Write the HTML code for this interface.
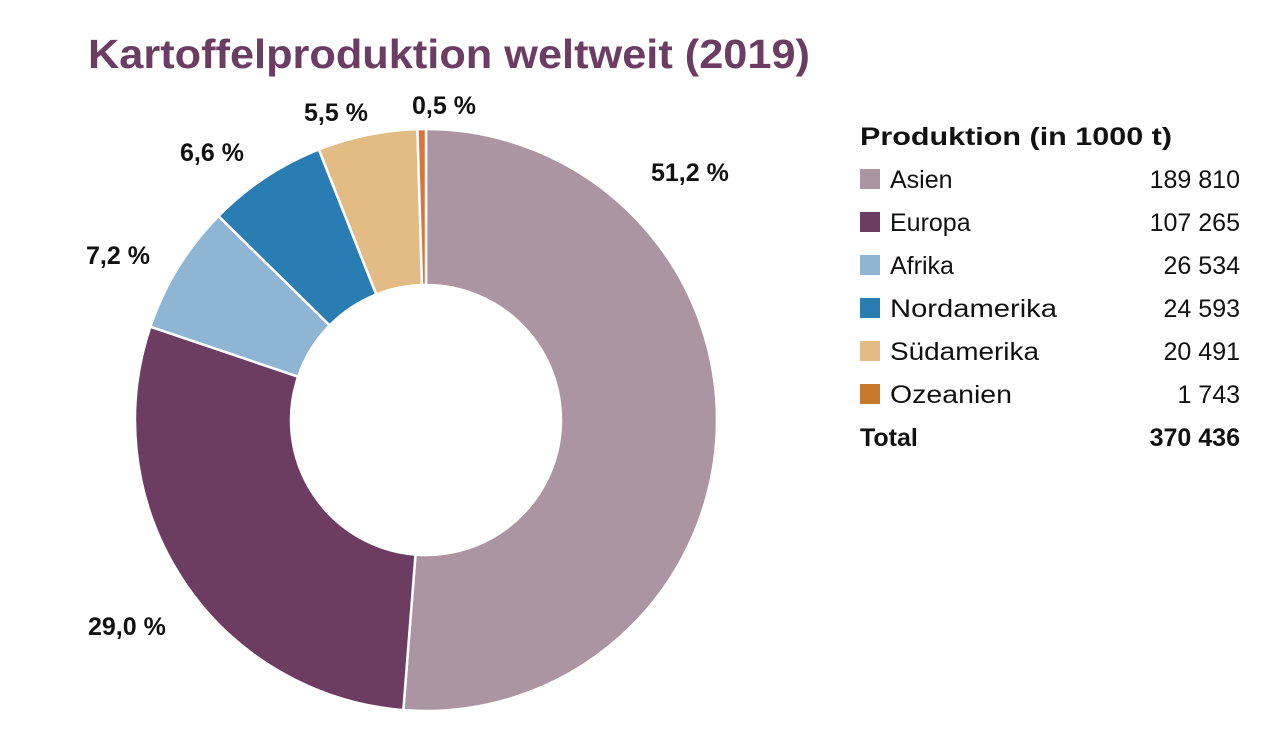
<!DOCTYPE html>
<html><head><meta charset="utf-8"><style>
html,body{margin:0;padding:0;background:#fff;}
body{width:1280px;height:745px;overflow:hidden;font-family:"Liberation Sans",sans-serif;}
</style></head><body>
<svg width="1280" height="745" viewBox="0 0 1280 745" xmlns="http://www.w3.org/2000/svg">
<text x="88" y="68" font-family="Liberation Sans, sans-serif" font-weight="bold" font-size="41" fill="#6b3d62" textLength="722" lengthAdjust="spacingAndGlyphs">Kartoffelproduktion weltweit (2019)</text>
<g id="pie"></g>
<g font-family="Liberation Sans, sans-serif" font-weight="bold" font-size="25" fill="#111">
<text x="651" y="181">51,2 %</text>
<text x="412" y="114">0,5 %</text>
<text x="304" y="121">5,5 %</text>
<text x="180" y="161">6,6 %</text>
<text x="86" y="264">7,2 %</text>
<text x="88" y="635">29,0 %</text>
</g>
<g font-family="Liberation Sans, sans-serif" font-size="25" fill="#111">
<text x="860" y="145" font-weight="bold" textLength="312" lengthAdjust="spacingAndGlyphs">Produktion (in 1000 t)</text>
<rect x="860" y="169" width="20" height="20" fill="#ab95a3"/><text x="890" y="188">Asien</text><text x="1240" y="188" text-anchor="end">189 810</text>
<rect x="860" y="212" width="20" height="20" fill="#6c3d61"/><text x="890" y="231">Europa</text><text x="1240" y="231" text-anchor="end">107 265</text>
<rect x="860" y="255" width="20" height="20" fill="#8fb5d5"/><text x="890" y="274">Afrika</text><text x="1240" y="274" text-anchor="end">26 534</text>
<rect x="860" y="298" width="20" height="20" fill="#2a7db3"/><text x="890" y="317" textLength="167" lengthAdjust="spacingAndGlyphs">Nordamerika</text><text x="1240" y="317" text-anchor="end">24 593</text>
<rect x="860" y="341" width="20" height="20" fill="#e2bc84"/><text x="890" y="360" textLength="149" lengthAdjust="spacingAndGlyphs">Südamerika</text><text x="1240" y="360" text-anchor="end">20 491</text>
<rect x="860" y="384" width="20" height="20" fill="#c87a2a"/><text x="890" y="403" textLength="122" lengthAdjust="spacingAndGlyphs">Ozeanien</text><text x="1240" y="403" text-anchor="end">1 743</text>
<text x="860" y="446" font-weight="bold">Total</text><text x="1240" y="446" text-anchor="end" font-weight="bold">370 436</text>
</g>
</svg>
<script>
var d=[[189810,"#ab95a3"],[107265,"#6c3d61"],[26534,"#8fb5d5"],[24593,"#2a7db3"],[20491,"#e2bc84"],[1743,"#d9743f"]];
var tot=370436,cx=426,cy=420,R=291,r=135,a=0,g=document.getElementById("pie"),s="";
function p(ang,rad){return [cx+rad*Math.sin(ang),cy-rad*Math.cos(ang)];}
d.forEach(function(e){var b=a+e[0]/tot*2*Math.PI,l=(b-a)>Math.PI?1:0;
var A=p(a,R),B=p(b,R),C=p(b,r),D=p(a,r);
s+='<path d="M'+A+' A'+R+','+R+' 0 '+l+' 1 '+B+' L'+C+' A'+r+','+r+' 0 '+l+' 0 '+D+' Z" fill="'+e[1]+'" stroke="#fff" stroke-width="2.5"/>';a=b;});
g.innerHTML=s;
</script>
</body></html>
